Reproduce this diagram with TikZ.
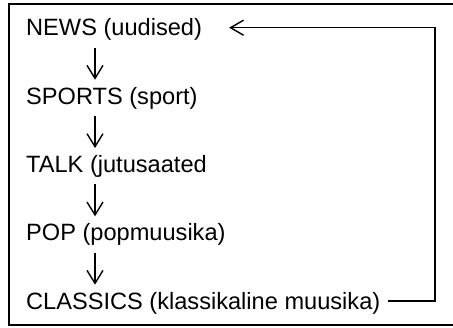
\documentclass[tikz,border=0pt]{standalone}
\usepackage{fontspec}
\setmainfont{Liberation Sans}
\usetikzlibrary{arrows.meta}
\begin{document}
\begin{tikzpicture}[x=1bp,y=-1bp,
  lbl/.style={anchor=base west, inner sep=0pt, font=\fontsize{23.6bp}{28bp}\selectfont},
  flow/.style={line width=1.4bp, -{Straight Barb[length=13bp,width=16bp]}, shorten <=7bp, shorten >=7bp},
  back/.style={line width=1.4bp, -{Straight Barb[length=13bp,width=15bp]}},
  frame/.style={line width=2bp}]
\clip (0,0) rectangle (453,327);
\draw[frame] (8.5,4) rectangle (470,325);
\node[lbl] (news) at (26,35.7) {NEWS (uudised)};
\node[lbl] (sports) at (26,104) {SPORTS (sport)};
\node[lbl] (talk) at (26,172.3) {TALK (jutusaated};
\node[lbl] (pop) at (26,240.6) {POP (popmuusika)};
\node[lbl] (classics) at (26,309) {CLASSICS (klassikaline muusika)};
\coordinate (ax) at (95,0);
\coordinate (rx) at (435,0);
\draw[flow] (news.south -| ax) -- (sports.north -| ax);
\draw[flow] (sports.south -| ax) -- (talk.north -| ax);
\draw[flow] (talk.south -| ax) -- (pop.north -| ax);
\draw[flow] (pop.south -| ax) -- (classics.north -| ax);
\draw[back] ([shift={(7bp,8bp)}]classics.base east) coordinate (s) -- (s -| rx) |- ([shift={(27bp,8bp)}]news.base east);
\end{tikzpicture}
\end{document}
